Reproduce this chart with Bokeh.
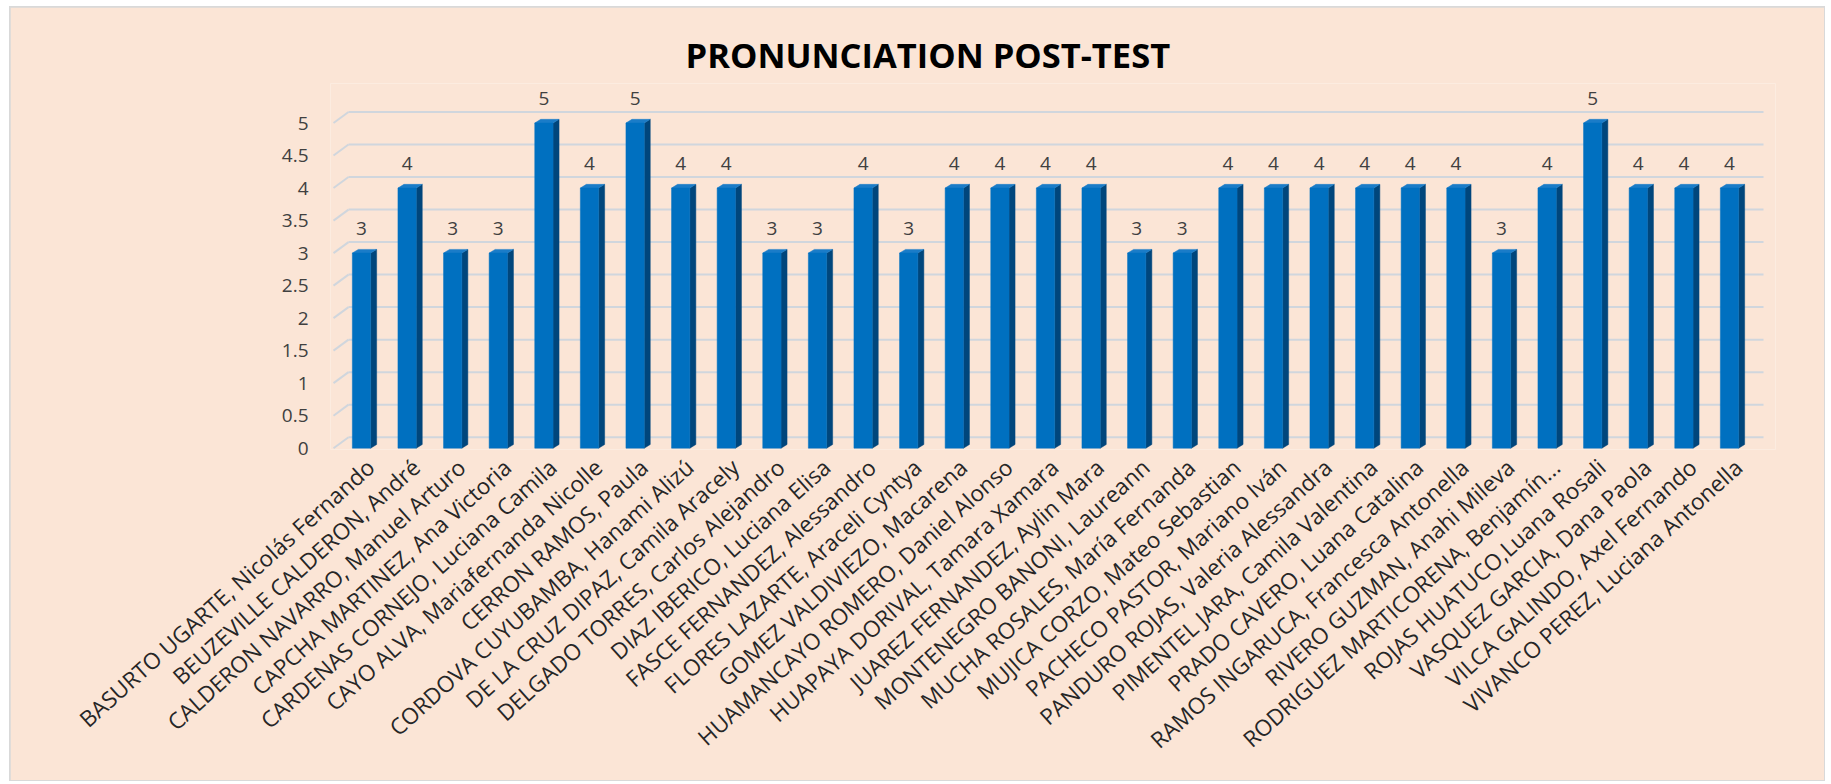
import numpy as np
from bokeh.plotting import figure
from bokeh.models import ColumnDataSource, FixedTicker, Range1d
from bokeh.embed import file_html
from bokeh.resources import INLINE

# ---------------- data ----------------
students = [
    "BASURTO UGARTE, Nicolás Fernando",
    "BEUZEVILLE CALDERON, André",
    "CALDERON NAVARRO, Manuel Arturo",
    "CAPCHA MARTINEZ, Ana Victoria",
    "CARDENAS CORNEJO, Luciana Camila",
    "CAYO ALVA, Mariafernanda Nicolle",
    "CERRON RAMOS, Paula",
    "CORDOVA CUYUBAMBA, Hanami Alizú",
    "DE LA CRUZ DIPAZ, Camila Aracely",
    "DELGADO TORRES, Carlos Alejandro",
    "DIAZ IBERICO, Luciana Elisa",
    "FASCE FERNANDEZ, Alessandro",
    "FLORES LAZARTE, Araceli Cyntya",
    "GOMEZ VALDIVIEZO, Macarena",
    "HUAMANCAYO ROMERO, Daniel Alonso",
    "HUAPAYA DORIVAL, Tamara Xamara",
    "JUAREZ FERNANDEZ, Aylin Mara",
    "MONTENEGRO BANONI, Laureann",
    "MUCHA ROSALES, María Fernanda",
    "MUJICA CORZO, Mateo Sebastian",
    "PACHECO PASTOR, Mariano Iván",
    "PANDURO ROJAS, Valeria Alessandra",
    "PIMENTEL JARA, Camila Valentina",
    "PRADO CAVERO, Luana Catalina",
    "RAMOS INGARUCA, Francesca Antonella",
    "RIVERO GUZMAN, Anahi Mileva",
    "RODRIGUEZ MARTICORENA, Benjamín...",
    "ROJAS HUATUCO,Luana Rosali",
    "VASQUEZ GARCIA, Dana Paola",
    "VILCA GALINDO, Axel Fernando",
    "VIVANCO PEREZ, Luciana Antonella",
]
scores = [3, 4, 3, 3, 5, 4, 5, 4, 4, 3, 3, 4, 3, 4, 4, 4, 4, 3, 3, 4,
          4, 4, 4, 4, 4, 3, 4, 5, 4, 4, 4]
y_ticks = [0.0, 0.5, 1.0, 1.5, 2.0, 2.5, 3.0, 3.5, 4.0, 4.5, 5.0]
y_tick_labels = ["0", "0.5", "1", "1.5", "2", "2.5", "3", "3.5", "4", "4.5", "5"]
chart_title = "PRONUNCIATION POST-TEST"

# ---------------- geometry / style ----------------
W, H = 1814, 773
ML, MR, MT = 320, 49, 76
PX_X = 45.6          # pixels per category
PX_Y = 65.0          # pixels per score unit
ZERO_Y = 440.5       # canvas y of the front-plane zero line
frame_w = W - ML - MR
x_lo = -31.0 / PX_X
x_hi = x_lo + frame_w / PX_X
y_hi = (ZERO_Y - MT) / PX_Y
y_lo = -0.02
frame_h = (y_hi - y_lo) * PX_Y
MB = int(round(H - MT - frame_h))

WALL_DX = 15.0 / PX_X
WALL_DY = 11.0 / PX_Y
GRID_X0 = x_lo + 3.0 / PX_X
GRID_X1 = x_lo + 1433.0 / PX_X
BAR_W = 18.3 / PX_X
DX = 6.0 / PX_X
DY = 3.7 / PX_Y
LABEL_SHIFT = 9.0 / PX_X

BG = "#FBE5D6"
FRONT = "#0070C0"
SIDE = "#00467C"
TOP = "#1A7CC8"
GRID = "#D0D6DD"
TXT = "#404040"
FONT = "Open Sans"

n = len(students)
idx = list(range(n))

p = figure(width=W, height=H, output_backend="svg", toolbar_location=None,
           x_range=Range1d(x_lo, x_hi), y_range=Range1d(y_lo, y_hi),
           min_border_left=ML, min_border_right=MR, min_border_top=MT,
           min_border_bottom=MB, background_fill_color=BG,
           border_fill_color=BG, outline_line_color=None)
p.styles = {"margin-left": "10px", "margin-top": "7px",
            "outline": "2px solid #D9D9D9", "outline-offset": "-1px"}

p.title.text = chart_title
p.title.text_font = FONT
p.title.text_font_size = "34.5px"
p.title.text_font_style = "bold"
p.title.text_color = "#000000"
p.title.align = "left"
p.title.offset = 355
p.title.standoff = 12

p.xgrid.visible = False
p.ygrid.visible = False

# back wall gridlines + diagonal floor/wall joins
gx0 = [GRID_X0] * len(y_ticks)
gx1 = [GRID_X0 + WALL_DX] * len(y_ticks)
gy1 = [t + WALL_DY for t in y_ticks]
gx2 = [GRID_X1] * len(y_ticks)
p.segment(x0=gx0, y0=y_ticks, x1=gx1, y1=gy1, line_color=GRID, line_width=2)
p.segment(x0=gx1, y0=gy1, x1=gx2, y1=gy1, line_color=GRID, line_width=2)

# 3D bars
half = BAR_W / 2
side_xs, side_ys, top_xs, top_ys = [], [], [], []
for i, v in zip(idx, scores):
    side_xs.append([i + half, i + half + DX, i + half + DX, i + half])
    side_ys.append([0, DY, v + DY, v])
    top_xs.append([i - half, i + half, i + half + DX, i - half + DX])
    top_ys.append([v, v, v + DY, v + DY])
p.patches(side_xs, side_ys, fill_color=SIDE, line_color=SIDE, line_width=0.5)
p.patches(top_xs, top_ys, fill_color=TOP, line_color=TOP, line_width=0.5)
src = ColumnDataSource(dict(x=idx, top=scores, lab=[str(s) for s in scores]))
p.vbar(x="x", top="top", bottom=0, width=BAR_W, source=src,
       fill_color=FRONT, line_color=FRONT, line_width=0.5)

p.text(x="x", y="top", text="lab", source=src, y_offset=-25,
       text_align="center", text_baseline="middle", text_font_size="19px",
       text_color=TXT, text_font={"value": FONT})

# axes
p.yaxis.ticker = FixedTicker(ticks=y_ticks)
p.yaxis.major_label_overrides = dict(zip(y_ticks, y_tick_labels))
p.yaxis.major_label_standoff = 16
p.yaxis.axis_line_color = None
p.yaxis.major_tick_line_color = None
p.yaxis.minor_tick_line_color = None
p.yaxis.major_label_text_font = FONT
p.yaxis.major_label_text_font_size = "19px"
p.yaxis.major_label_text_color = TXT

xticks = [i + LABEL_SHIFT for i in idx]
p.xaxis.ticker = FixedTicker(ticks=xticks)
p.xaxis.major_label_overrides = {t: s for t, s in zip(xticks, students)}
p.xaxis.major_label_orientation = 0.733
p.xaxis.major_label_standoff = 8
p.xaxis.axis_line_color = None
p.xaxis.major_tick_line_color = None
p.xaxis.minor_tick_line_color = None
p.xaxis.major_label_text_font = FONT
p.xaxis.major_label_text_font_size = "22.5px"
p.xaxis.major_label_text_color = "#262626"

open("out.html", "w").write(file_html(p, INLINE))
